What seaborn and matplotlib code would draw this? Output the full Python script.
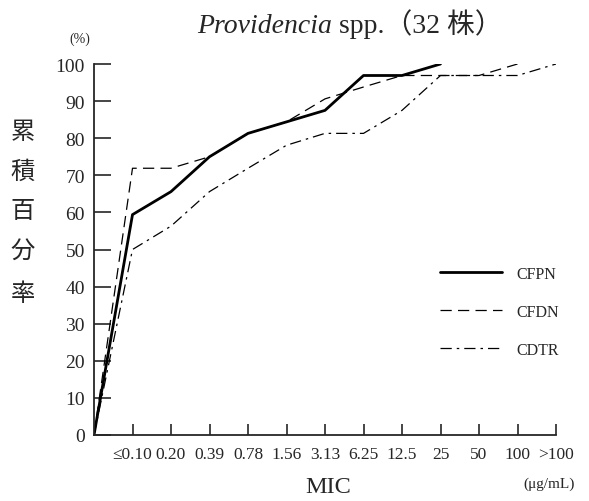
import matplotlib
matplotlib.use("Agg")
import matplotlib.pyplot as plt
import seaborn as sns
import pandas as pd

sns.set_style("ticks")
plt.rcParams['font.family'] = ['Liberation Serif', 'Noto Sans CJK JP', 'DejaVu Serif']

mic_labels = ["", "≤0.10", "0.20", "0.39", "0.78", "1.56", "3.13", "6.25",
              "12.5", "25", "50", "100", ">100"]
cfpn = [0, 59.4, 65.6, 75.0, 81.3, 84.4, 87.5, 96.9, 96.9, 100.0]
cfdn = [0, 71.9, 71.9, 75.0, 81.3, 84.4, 90.6, 93.8, 96.9, 96.9, 96.9, 100.0]
cdtr = [0, 50.0, 56.3, 65.6, 71.9, 78.1, 81.3, 81.3, 87.5, 96.9, 96.9, 96.9, 100.0]
ylabel_chars = ["累", "積", "百", "分", "率"]

series = {"CFPN": cfpn, "CFDN": cfdn, "CDTR": cdtr}
rows = []
for drug, vals in series.items():
    for i, v in enumerate(vals):
        rows.append({"drug": drug, "pos": i, "pct": v})
df = pd.DataFrame(rows)

styles = {
    "CFPN": dict(linewidth=2.0, linestyle="-"),
    "CFDN": dict(linewidth=0.9, dashes=(9, 5)),
    "CDTR": dict(linewidth=0.9, dashes=(9, 4, 2, 4)),
}

fig = plt.figure(figsize=(5.89, 5.02), dpi=100)
ax = fig.add_axes([94 / 589, 66 / 502, (556 - 94) / 589, (436 - 65) / 502])

for drug in series:
    sub = df[df["drug"] == drug]
    sns.lineplot(data=sub, x="pos", y="pct", ax=ax, color="black",
                 label=drug, **styles[drug])

ax.set_xlim(0, 12)
ax.set_ylim(0, 100)
ax.set_xticks(range(13))
ax.set_xticklabels(mic_labels, fontsize=12.5)
ax.set_yticks(range(0, 101, 10))
ax.tick_params(axis="y", direction="in", length=12, width=1.2, labelsize=14, pad=6.5)
ax.tick_params(axis="x", direction="in", length=8, width=1.2, pad=8)
ax.xaxis.get_major_ticks()[0].tick1line.set_visible(False)
sns.despine(ax=ax)
for s in ["left", "bottom"]:
    ax.spines[s].set_linewidth(1.3)
ax.set_xlabel("")
ax.set_ylabel("")

leg = ax.legend(loc="center left", bbox_to_anchor=(0.718, 0.3315), frameon=False,
                fontsize=11.5, handlelength=3.9, handletextpad=0.85, labelspacing=1.38)

fig.text(80 / 589, 1 - 39 / 502, "(%)", fontsize=10, ha="center", va="center")
# vertical y label, one character per line
for ch, yy in zip(ylabel_chars, [132, 172, 211, 251, 294]):
    fig.text(23 / 589, 1 - yy / 502, ch, fontsize=17.5, ha="center", va="center",
             family=['Noto Sans CJK JP'])
fig.text(328 / 589, 1 - 488 / 502, "MIC", fontsize=17.5, ha="center", va="center")
fig.text(549 / 589, 1 - 484 / 502, "(μg/mL)", fontsize=11, ha="center", va="center")

# title: italic genus name followed by the rest
renderer = fig.canvas.get_renderer()
t1 = fig.text(197 / 589, 1 - 33 / 502, "Providencia", fontsize=20, style="italic",
              ha="left", va="baseline")
bb = t1.get_window_extent(renderer)
fig.text(bb.x1 / fig.bbox.width, 1 - 33 / 502, " spp.（32 株）", fontsize=20,
         ha="left", va="baseline")

fig.savefig("out.png", dpi=100)
